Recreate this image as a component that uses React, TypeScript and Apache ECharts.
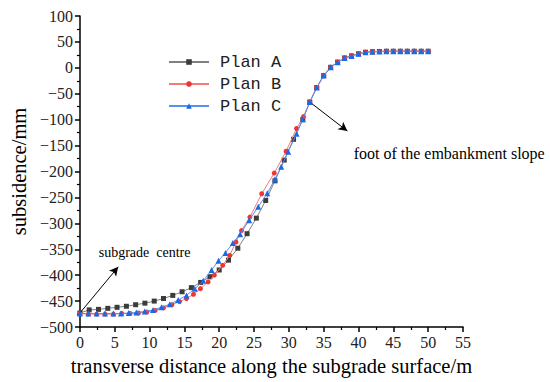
import React, { useEffect, useRef } from "react";
import * as echarts from "echarts";

const planAX = [0, 1.33, 2.67, 4, 5.33, 6.67, 8, 9.33, 10.67, 12, 13.33, 14.67, 16, 17.33, 18.67, 20, 21.33, 22.67, 24, 25.33, 26.67, 28, 29.33, 30.67, 32];
const planAY = [-473, -467, -466, -464, -462, -460, -457, -454, -450, -445, -439, -432, -424, -414, -403, -390, -371, -348, -320, -290, -256, -218, -178, -138, -100];

const planBX = [0, 1.2, 2.4, 3.6, 4.8, 6, 7.2, 8.4, 9.6, 10.8, 12, 13.2, 14.3, 15.3, 16.3, 17.3, 18.4, 19.3, 20.5, 21.5, 22.4, 23.2, 24.4, 26.1, 27.9, 29.6, 31.1, 32.1];
const planBY = [-474, -475, -475, -475, -475, -474, -474, -473, -471, -468, -463, -457, -451, -445, -437, -426, -413, -400, -381, -362, -336, -314, -288, -243, -203, -161, -117, -94];

const planCX = [0, 1.2, 2.4, 3.6, 4.8, 5.9, 7, 8.1, 9.3, 10.5, 11.7, 12.9, 14.1, 15.3, 16.5, 17.7, 18.9, 19.9, 20.9, 21.95, 23, 24.3, 25.6, 26.9, 28, 28.9, 29.9, 31.1, 32];
const planCY = [-474, -474, -474, -474, -474, -474, -473, -472, -470, -467, -462, -456, -448, -439, -426, -411, -390, -372, -357, -338, -321, -294, -268, -242, -215, -191, -162, -127, -99];

// shared tail (all plans coincide beyond the embankment foot)
const tailX = [33, 34, 35, 36, 37, 38, 39, 40, 41, 42, 43, 44, 45, 46, 47, 48, 49, 50];
const tailY = [-66, -38, -15, 1, 11, 19, 23, 27, 30, 31, 31.5, 32, 32, 32, 32, 32, 32, 32];

const seriesNames = ["Plan A", "Plan B", "Plan C"];
const xTicks = { min: 0, max: 55, interval: 5 };
const yTicks = { min: -500, max: 100, interval: 50 };

const centreArrow = { from: [0, -473], to: [5.5, -384], label: "subgrade  centre", labelAt: [2.7, -356] };
const footArrow = { from: [33, -66], to: [38.4, -122], label: "foot of the embankment slope", labelAt: [39.3, -166] };

function pairs(xs: number[], ys: number[]) {
  const out: number[][] = [];
  for (let i = 0; i < xs.length; i++) out.push([xs[i], ys[i]]);
  for (let i = 0; i < tailX.length; i++) out.push([tailX[i], tailY[i]]);
  return out;
}

export default function App() {
  const ref = useRef<HTMLDivElement>(null);
  useEffect(() => {
    if (!ref.current) return;
    const chart = echarts.init(ref.current, undefined, { renderer: "svg" });
    const serif = "Liberation Serif";
    const minus = (v: number) => String(v).replace("-", "\u2212");
    const axisCommon = {
      axisLine: { show: true, onZero: false, lineStyle: { color: "#000", width: 1.5 } },
      axisTick: { show: true, inside: false, length: 5, lineStyle: { color: "#000", width: 1.5 } },
      minorTick: { show: true, splitNumber: 2, length: 3, lineStyle: { color: "#000", width: 1.2 } },
      splitLine: { show: false },
    };
    chart.setOption({
      animation: false,
      backgroundColor: "#fff",
      grid: { left: 78, right: 87, top: 16, bottom: 55 },
      legend: {
        data: seriesNames,
        orient: "vertical",
        left: 163,
        top: 48,
        itemWidth: 40,
        itemHeight: 7,
        itemGap: 4,
        textStyle: { fontFamily: "Liberation Mono", fontSize: 17, color: "#222", padding: [0, 0, 0, 6], lineHeight: 18 },
      },
      xAxis: {
        type: "value",
        ...xTicks,
        ...axisCommon,
        axisLabel: { fontFamily: serif, fontSize: 16, color: "#222", margin: 7 },
        name: "transverse distance along the subgrade surface/m",
        nameLocation: "middle",
        nameGap: 28,
        nameTextStyle: { fontFamily: serif, fontSize: 20.5, color: "#000" },
      },
      yAxis: {
        type: "value",
        ...yTicks,
        ...axisCommon,
        axisLabel: { fontFamily: serif, fontSize: 16, color: "#222", margin: 7, formatter: minus },
        name: "subsidence/mm",
        nameLocation: "middle",
        nameGap: 49,
        nameRotate: 90,
        nameTextStyle: { fontFamily: serif, fontSize: 20.5, color: "#000" },
      },
      series: [
        {
          name: "Plan A",
          type: "line",
          data: pairs(planAX, planAY),
          symbol: "rect",
          symbolSize: 5,
          itemStyle: { color: "#3c3c3c" },
          lineStyle: { color: "#808080", width: 1 },
          z: 3,
          markLine: {
            silent: true,
            symbol: ["none", "arrow"],
            symbolSize: [7, 9],
            label: { show: false },
            lineStyle: { color: "#000", width: 1, type: "solid" },
            data: [
              [{ coord: centreArrow.from }, { coord: centreArrow.to }],
              [{ coord: footArrow.from }, { coord: footArrow.to }],
            ],
          },
        },
        {
          name: "Plan B",
          type: "line",
          data: pairs(planBX, planBY),
          symbol: "circle",
          symbolSize: 5,
          itemStyle: { color: "#ee3535" },
          lineStyle: { color: "#f27a7a", width: 1 },
          z: 4,
        },
        {
          name: "Plan C",
          type: "line",
          data: pairs(planCX, planCY),
          symbol: "triangle",
          symbolSize: 6,
          itemStyle: { color: "#1a6ae6" },
          lineStyle: { color: "#5a8ff0", width: 1 },
          z: 5,
        },
      ],
    });
    const p1 = chart.convertToPixel({ gridIndex: 0 }, centreArrow.labelAt) as number[];
    const p2 = chart.convertToPixel({ gridIndex: 0 }, footArrow.labelAt) as number[];
    chart.setOption({
      graphic: [
        { type: "text", x: p1[0], y: p1[1], style: { text: centreArrow.label, font: `14px ${serif}`, fill: "#000", textVerticalAlign: "middle" } },
        { type: "text", x: p2[0], y: p2[1], style: { text: footArrow.label, font: `16px ${serif}`, fill: "#000", textVerticalAlign: "middle" } },
      ],
    });
    return () => chart.dispose();
  }, []);
  return <div ref={ref} style={{ width: 550, height: 382, position: "absolute", left: 0, top: 0 }} />;
}
